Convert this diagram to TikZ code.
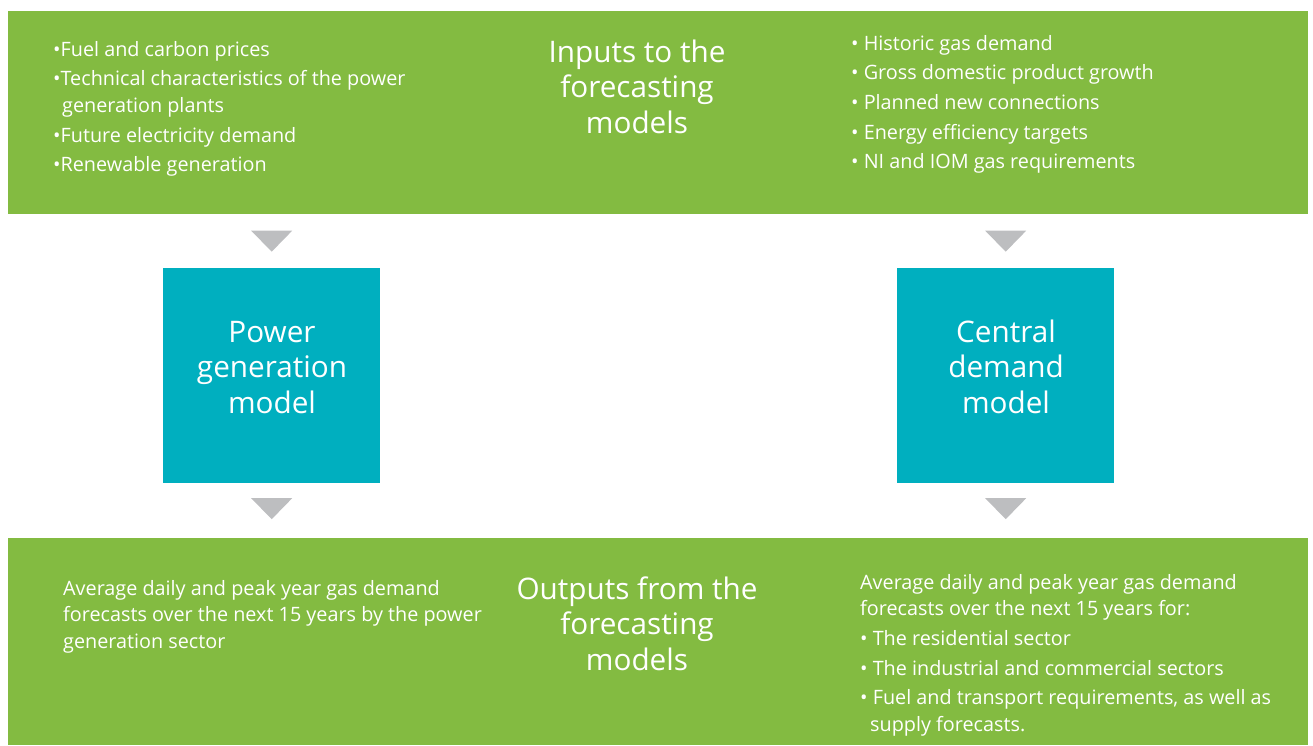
\documentclass[tikz,border=0pt]{standalone}
\usepackage{fontspec}
\setmainfont{Open Sans}
\usepackage{xcolor}
\usepackage{tikz}
\usetikzlibrary{calc}
\definecolor{bandgreen}{HTML}{83BB41}
\definecolor{modelteal}{HTML}{00AFBF}
\definecolor{tipgrey}{HTML}{BDBEC0}
\tikzstyle{band} = [fill=bandgreen, rectangle, inner sep=0pt, anchor=north west,
minimum width=1300pt]
\tikzstyle{modelbox} = [fill=modelteal, rectangle, inner sep=0pt, anchor=north west,
minimum width=217pt, minimum height=215pt]
\tikzstyle{listtext} = [text=white, inner sep=0pt, anchor=base west]
\tikzstyle{titletext} = [text=white, inner sep=0pt, anchor=base]
\tikzstyle{flowtip} = [fill=tipgrey]
\newcommand{\listfont}{\fontsize{19.8}{26.7}\selectfont\parindent=0pt\parskip=3pt}
\newcommand{\titlefont}{\fontsize{29.7}{35.5}\selectfont}
\newcommand{\itm}[1]{\par\hangindent=9pt\hangafter=1 •#1}
\newcommand{\itms}[1]{\par\hangindent=10pt\hangafter=1 •\ #1}

\begin{document}
\begin{tikzpicture}[x=1pt, y=-1pt]
        \useasboundingbox (0,0) rectangle (1313,745);
        % bands and model boxes
        \node [band, minimum height=203pt] (inputs) at (8,11) {};
        \node [band, minimum height=207pt] (outputs) at (8,538) {};
        \node [modelbox] (power) at (163,268) {};
        \node [modelbox] (central) at (897,268) {};
        % titles
        \node [titletext] (intitle) at (637,62) {%
            \begin{minipage}[t]{300pt}\titlefont\centering
                Inputs to the\\ forecasting\\ models
            \end{minipage}
        };
        \node [titletext] (outtitle) at (637,599) {%
            \begin{minipage}[t]{300pt}\titlefont\centering
                Outputs from the\\ forecasting\\ models
            \end{minipage}
        };
        \node [titletext] (powertitle) at (272,342) {%
            \begin{minipage}[t]{210pt}\titlefont\centering
                Power\\ generation\\ model
            \end{minipage}
        };
        \node [titletext] (centraltitle) at (1006,342) {%
            \begin{minipage}[t]{210pt}\titlefont\centering
                Central\\ demand\\ model
            \end{minipage}
        };
        % lists
        \node [listtext] (powerin) at (53,56) {%
            \begin{minipage}[t]{440pt}\listfont
                \itm{Fuel and carbon prices}
                \itm{Technical characteristics of the power\newline generation plants}
                \itm{Future electricity demand}
                \itm{Renewable generation}
            \end{minipage}
        };
        \node [listtext] (centralin) at (851,50) {%
            \begin{minipage}[t]{440pt}\listfont
                \itms{Historic gas demand}
                \itms{Gross domestic product growth}
                \itms{Planned new connections}
                \itms{Energy efficiency targets}
                \itms{NI and IOM gas requirements}
            \end{minipage}
        };
        \node [listtext] (powerout) at (63,595) {%
            \begin{minipage}[t]{440pt}\listfont
                Average daily and peak year gas demand\newline
                forecasts over the next 15 years by the power\newline
                generation sector
            \end{minipage}
        };
        \node [listtext] (centralout) at (860,589) {%
            \begin{minipage}[t]{440pt}\listfont
                Average daily and peak year gas demand\newline
                forecasts over the next 15 years for:
                \itms{The residential sector}
                \itms{The industrial and commercial sectors}
                \itms{Fuel and transport requirements, as well as\newline supply forecasts.}
            \end{minipage}
        };
        % grey tips between the blocks
        \coordinate (tip1) at ($(inputs.south -| power.north)!0.5!(power.north)$);
        \coordinate (tip2) at ($(inputs.south -| central.north)!0.5!(central.north)$);
        \coordinate (tip3) at ($(power.south)!0.5!(outputs.north -| power.south)+(0,-2)$);
        \coordinate (tip4) at ($(central.south)!0.5!(outputs.north -| central.south)+(0,-2)$);
        \foreach \t in {tip1,tip2,tip3,tip4}
            \fill [flowtip] ($(\t)+(-20.5,-10.5)$) -- ($(\t)+(20.5,-10.5)$) -- ($(\t)+(0,10.5)$) -- cycle;
    \end{tikzpicture}
\end{document}
